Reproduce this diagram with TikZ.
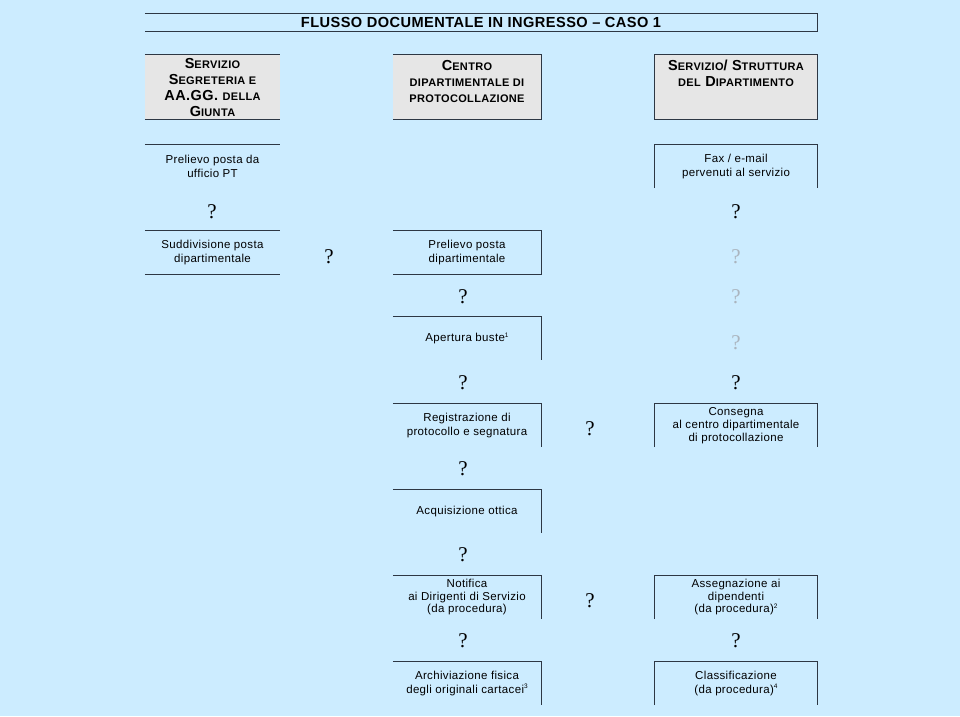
\documentclass[tikz,border=0pt]{standalone}
\usepackage{fontspec}
\setmainfont{Liberation Sans}[LetterSpace=3]
\newfontfamily\qfont{Liberation Serif}
\usetikzlibrary{positioning}
\definecolor{skyback}{RGB}{204,236,255}
\definecolor{headgrey}{RGB}{230,230,230}
\definecolor{rulecol}{RGB}{45,55,68}
\definecolor{fadeq}{RGB}{170,180,190}
\newcommand{\smc}[1]{{\fontsize{11}{16}\selectfont #1}}
\newcommand{\apice}[1]{\raisebox{0.8ex}{\fontsize{6.5}{6.5}\selectfont #1}}

\begin{document}
\begin{tikzpicture}[x=1pt,y=-1pt,
    rule/.style={draw=rulecol, line width=1.3pt},
    headbox/.style={fill=headgrey, inner sep=0pt, align=center,
        font=\fontsize{14.5}{16}\selectfont\bfseries},
    stepbox/.style={minimum height=43pt, inner sep=0pt, align=center,
        font=\fontsize{11.5}{13.5}\selectfont},
    colL/.style={minimum width=135pt},
    colM/.style={minimum width=148pt},
    colR/.style={minimum width=162pt},
    qmark/.style={font=\qfont\fontsize{21}{21}\selectfont, inner sep=0pt},
    qfaded/.style={qmark, text=fadeq}]
    \useasboundingbox (0,0) rectangle (960,716);
    \fill[skyback] (0,0) rectangle (960,716);

    % title
    \node[minimum width=672pt, minimum height=17pt, inner sep=0pt,
        font=\fontsize{14.6}{16}\selectfont\bfseries] (title) at (481,22.5)
        {FLUSSO DOCUMENTALE IN INGRESSO -- CASO 1};
    \draw[rule] (title.north west) -- (title.north east) -- (title.south east) -- (title.south west);

    % column headers (text hangs from the top edge)
    \node[headbox, colL, text height=61pt, text depth=3pt] (segr) at (212.5,87)
        {S\smc{ERVIZIO}\\S\smc{EGRETERIA E}\\AA.GG. \smc{DELLA}\\G\smc{IUNTA}};
    \node[headbox, colM, text height=47pt, text depth=17pt] (centro) at (467,87)
        {C\smc{ENTRO}\\\smc{DIPARTIMENTALE DI}\\\smc{PROTOCOLLAZIONE}};
    \node[headbox, colR, text height=31pt, text depth=33pt] (serv) at (736,87)
        {S\smc{ERVIZIO}/ S\smc{TRUTTURA}\\\smc{DEL} D\smc{IPARTIMENTO}};
    \draw[rule] (segr.north west) -- (segr.north east);
    \draw[rule] (segr.south west) -- (segr.south east);
    \draw[rule] (centro.north west) -- (centro.north east) -- (centro.south east) -- (centro.south west);
    \draw[rule] (serv.north west) rectangle (serv.south east);

    % process steps
    \node[stepbox, colL] (ptbox) at (212.5,166.5) {Prelievo posta da\\ufficio PT};
    \node[stepbox, colR] (fax) at (736,166.5) {Fax / e-mail\\pervenuti al servizio};
    \node[stepbox, colL] (sudd) at (212.5,252.5) {Suddivisione posta\\dipartimentale};
    \node[stepbox, colM] (prel) at (467,252.5) {Prelievo posta\\dipartimentale};
    \node[stepbox, colM] (apert) at (467,338.5) {Apertura buste\apice{1}};
    \node[stepbox, colM] (regis) at (467,425.5) {Registrazione di\\protocollo e segnatura};
    \node[stepbox, colR, font=\fontsize{11.5}{13}\selectfont] (conse) at (736,425.5)
        {Consegna\\al centro dipartimentale\\di protocollazione};
    \node[stepbox, colM] (acqui) at (467,511.5) {Acquisizione ottica};
    \node[stepbox, colM, font=\fontsize{11.5}{12.5}\selectfont] (notif) at (467,597.5)
        {Notifica\\ai Dirigenti di Servizio\\(da procedura)};
    \node[stepbox, colR, font=\fontsize{11.5}{12.5}\selectfont] (asseg) at (736,597.5)
        {Assegnazione ai\\dipendenti\\(da procedura)\apice{2}};
    \node[stepbox, colM] (archi) at (467,683.5) {Archiviazione fisica\\degli originali cartacei\apice{3}};
    \node[stepbox, colR] (class) at (736,683.5) {Classificazione\\(da procedura)\apice{4}};

    \draw[rule] (ptbox.north west) -- (ptbox.north east);
    \draw[rule] (sudd.north west) -- (sudd.north east);
    \draw[rule] (sudd.south west) -- (sudd.south east);
    \draw[rule] (prel.north west) -- (prel.north east) -- (prel.south east) -- (prel.south west);
    \foreach \n in {apert,regis,acqui,notif,archi}
        \draw[rule] (\n.north west) -- (\n.north east) -- (\n.south east);
    \foreach \n in {fax,conse,asseg,class}
        \draw[rule] (\n.south west) -- (\n.north west) -- (\n.north east) -- (\n.south east);

    % marks between the steps
    \node[qmark] (q1) at (212,212) {?};
    \node[qmark] (q2) at (736,212) {?};
    \node[qmark] (q3) at (329,257) {?};
    \node[qfaded] (q4) at (736,257) {?};
    \node[qmark] (q5) at (463,297) {?};
    \node[qfaded] (q6) at (736,297) {?};
    \node[qfaded] (q7) at (736,343) {?};
    \node[qmark] (q8) at (463,383) {?};
    \node[qmark] (q9) at (736,383) {?};
    \node[qmark] (q10) at (590,429) {?};
    \node[qmark] (q11) at (463,469) {?};
    \node[qmark] (q12) at (463,555) {?};
    \node[qmark] (q13) at (590,601) {?};
    \node[qmark] (q14) at (463,641) {?};
    \node[qmark] (q15) at (736,641) {?};
\end{tikzpicture}
\end{document}
